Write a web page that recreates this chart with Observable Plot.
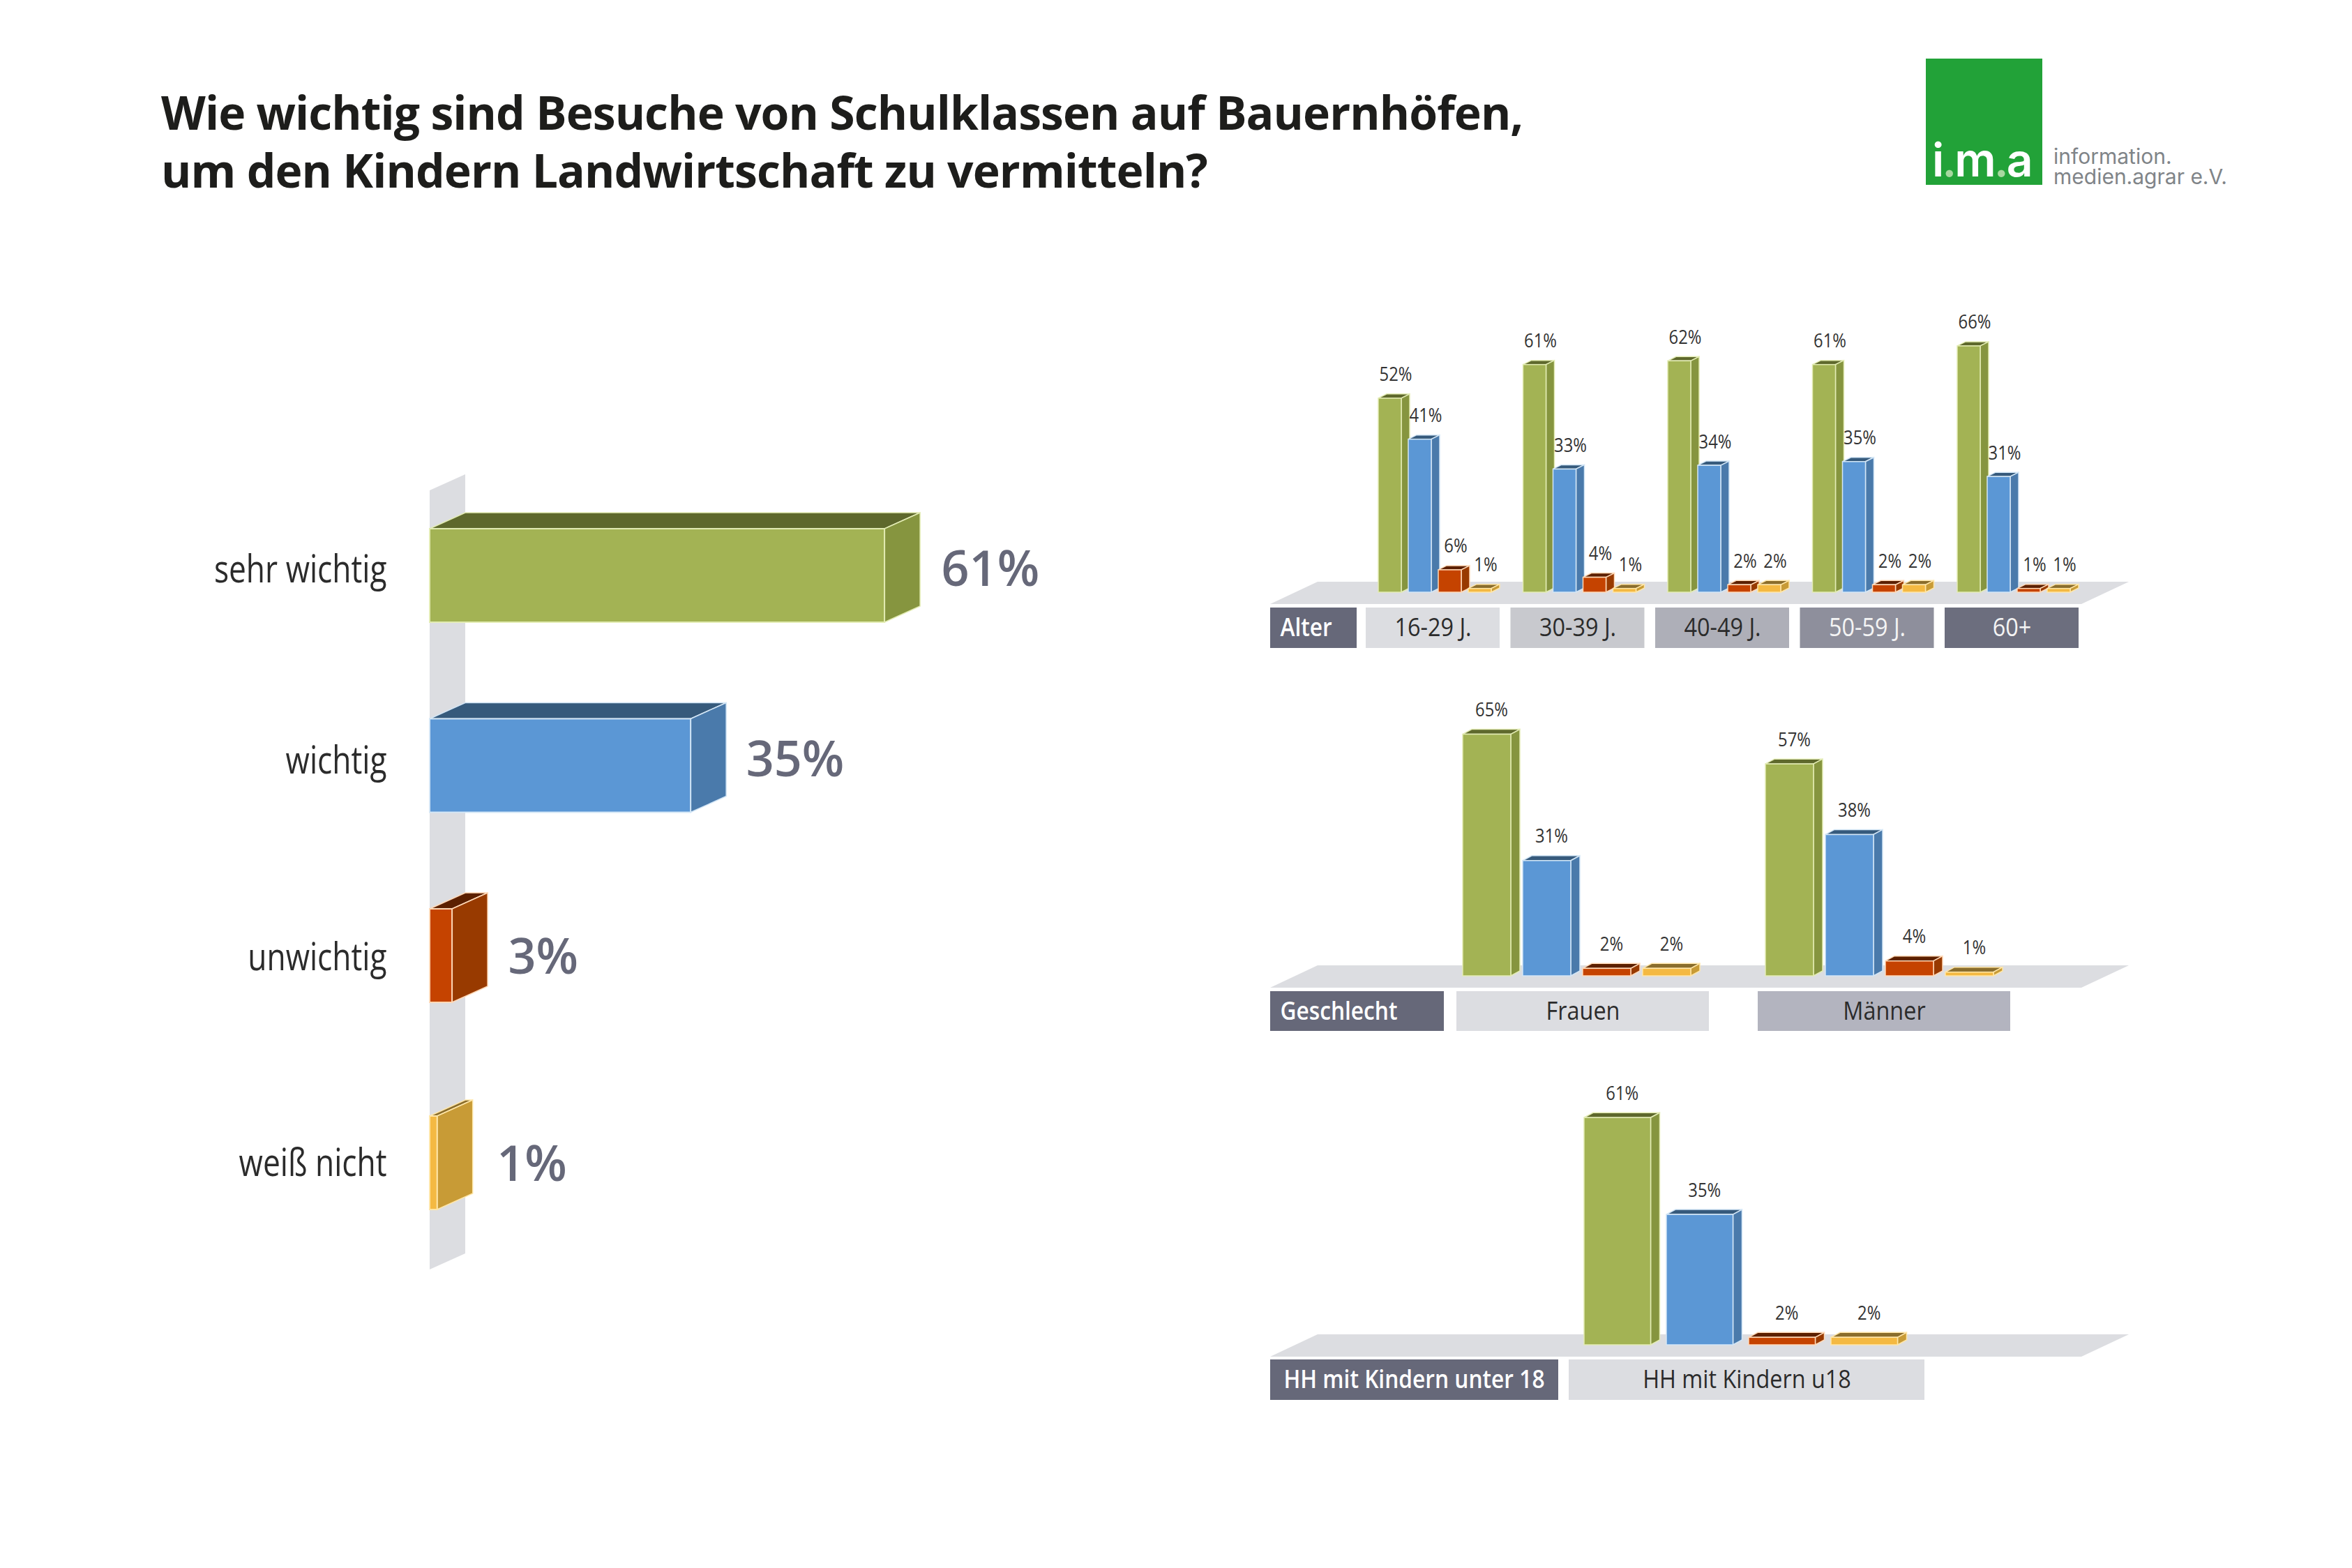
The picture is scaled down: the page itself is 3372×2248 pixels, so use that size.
<!DOCTYPE html>
<html lang="de">
<head>
<meta charset="utf-8">
<script src="https://cdn.jsdelivr.net/npm/d3@7"></script>
<script src="https://cdn.jsdelivr.net/npm/@observablehq/plot@0.6"></script>
<style>
  html, body { margin: 0; padding: 0; background: #fff; }
  #page { position: relative; width: 3372px; height: 2248px; overflow: hidden; background: #fff; }
  #title { position: absolute; left: 231px; top: 119px; font: 700 66px/83px "Open Sans", sans-serif; letter-spacing: -0.9px; color: #1d1d1b; white-space: pre; margin: 0; }
  #logo { position: absolute; left: 2761px; top: 84px; width: 167px; height: 181px; background: #22a238; }
  #logoMark { position: absolute; left: 9px; top: 105px; font: 600 66px/80px Inter, sans-serif; color: #fff; letter-spacing: -3px; white-space: pre; }
  #logoMark span { color: #a8d8a0; }
  #logoText { position: absolute; left: 2944px; top: 210px; font: 400 30px/29px Inter, sans-serif; color: #808488; white-space: pre; }
  #page svg { position: absolute; background: transparent; }
</style>
</head>
<body>
<div id="page">
  <h1 id="title"></h1>
  <div id="logo"><div id="logoMark">i<span>.</span>m<span>.</span>a</div></div>
  <div id="logoText"></div>
</div>
<script>
// ---------- text ----------
const titleLines = ["Wie wichtig sind Besuche von Schulklassen auf Bauernhöfen,", "um den Kindern Landwirtschaft zu vermitteln?"];
const logoLines = ["information.", "medien.agrar e.V."];

// ---------- data ----------
const responses = ["sehr wichtig", "wichtig", "unwichtig", "weiß nicht"];
const totalValues = [61, 35, 3, 1];

const ageHeader = "Alter";
const ageGroups = ["16-29 J.", "30-39 J.", "40-49 J.", "50-59 J.", "60+"];
const ageSehrWichtig = [52, 61, 62, 61, 66];
const ageWichtig = [41, 33, 34, 35, 31];
const ageUnwichtig = [6, 4, 2, 2, 1];
const ageWeissNicht = [1, 1, 2, 2, 1];

const genderHeader = "Geschlecht";
const genderGroups = ["Frauen", "Männer"];
const genderSehrWichtig = [65, 57];
const genderWichtig = [31, 38];
const genderUnwichtig = [2, 4];
const genderWeissNicht = [2, 1];

const kidsHeader = "HH mit Kindern unter 18";
const kidsGroups = ["HH mit Kindern u18"];
const kidsSehrWichtig = [61];
const kidsWichtig = [35];
const kidsUnwichtig = [2];
const kidsWeissNicht = [2];

// ---------- styles ----------
const frontColors = ["#a3b354", "#5b97d5", "#c54300", "#f4b942"];
const sideColors = ["#86953f", "#4a7aab", "#983a00", "#c89b36"];
const topColors = ["#5e682c", "#365a7c", "#5c2000", "#8a6d2c"];
const edgeColors = ["#e3ecb4", "#d3e6f6", "#ffd9b8", "#ffe6a8"];
const wallColor = "#dcdde1";
const headerColor = "#666879";
const FONT = "Open Sans";

const colorScale = {domain: responses, range: frontColors};
const page = document.getElementById("page");

// ---------- 3D helpers: all faces derive from the pixel positions Plot's scales give ----------
function pathOf(points, fill, stroke) {
  const p = document.createElementNS("http://www.w3.org/2000/svg", "path");
  p.setAttribute("d", "M" + points.map(q => q.join(",")).join("L") + "Z");
  p.setAttribute("fill", fill);
  if (stroke) { p.setAttribute("stroke", stroke); p.setAttribute("stroke-width", 1.5); }
  return p;
}
// depth prism: top + side polygons behind the front rect drawn by Plot.
function prism(rows, dx, dy, edgeWidth) {
  return (index, scales, values, dimensions, context, next) => {
    const g = next(index, scales, values, dimensions, context);
    const first = g.firstChild;
    for (const i of index) {
      const l = Math.min(values.x1[i], values.x2[i]), r = Math.max(values.x1[i], values.x2[i]);
      const t = Math.min(values.y1[i], values.y2[i]), b = Math.max(values.y1[i], values.y2[i]);
      const k = rows[i].r;
      g.insertBefore(pathOf([[l, t], [l + dx, t - dy], [r + dx, t - dy], [r, t]], topColors[k], edgeColors[k]), first);
      g.insertBefore(pathOf([[r, t], [r + dx, t - dy], [r + dx, b - dy], [r, b]], sideColors[k], edgeColors[k]), first);
    }
    g.querySelectorAll("rect").forEach((el, j) => {
      el.setAttribute("stroke", edgeColors[rows[index[j]].r]);
      el.setAttribute("stroke-width", edgeWidth);
    });
    return g;
  };
}
// a rect sheared sideways (floor) or upwards (wall)
function sheared(shiftX, shiftY) {
  return (index, scales, values) => {
    const g = document.createElementNS("http://www.w3.org/2000/svg", "g");
    for (const i of index) {
      const l = Math.min(values.x1[i], values.x2[i]), r = Math.max(values.x1[i], values.x2[i]);
      const t = Math.min(values.y1[i], values.y2[i]), b = Math.max(values.y1[i], values.y2[i]);
      g.appendChild(pathOf([[l + shiftX, t], [r + shiftX, t - shiftY], [r, b - shiftY], [l, b]], wallColor));
    }
    return g;
  };
}
function place(svg, left, top) {
  svg.style.left = left + "px";
  svg.style.top = top + "px";
  page.appendChild(svg);
}

// ---------- left chart ----------
(function leftChart() {
  const L = {top: 650, height: 1200, width: 1760, x0: 616, pxPerPct: 10.69, c0: 825, c3: 1667, lastSlot: 3.09,
             halfBar: 0.246, dx: 51, dy: 23, labelShift: [-8, -7, 3, 3], rowLabelShift: [-8, -6, 3, 1], labelGap: [30, 28, 29, 34]};
  const slotPx = (L.c3 - L.c0) / L.lastSlot;
  const rowSlots = [0, 1, 2, L.lastSlot];
  const rows = responses.map((name, r) => ({name, r, v: totalValues[r], slot: rowSlots[r]}));
  const wall = [{x1: 0, x2: L.dx / L.pxPerPct, y1: (703 - L.c0) / slotPx, y2: (1820 - L.c0) / slotPx}];
  const svg = Plot.plot({
    width: L.width, height: L.height, margin: 0,
    x: {domain: [0, 100], range: [L.x0, L.x0 + 100 * L.pxPerPct], axis: null},
    y: {domain: [0, L.lastSlot], range: [L.c0 - L.top, L.c3 - L.top], axis: null},
    color: colorScale,
    marks: [
      Plot.rect(wall, {x1: "x1", x2: "x2", y1: "y1", y2: "y2", fill: wallColor, render: sheared(0, 23)}),
      Plot.rect(rows, {x1: 0, x2: "v", y1: d => d.slot - L.halfBar, y2: d => d.slot + L.halfBar, fill: "name",
                       render: prism(rows, L.dx, L.dy, 2)}),
      Plot.text(rows, {x: 0, y: d => d.slot + L.rowLabelShift[d.r] / slotPx, text: "name", dx: -62, textAnchor: "end",
                       fontFamily: FONT, fontSize: 54, fill: "#2b2b2b", className: "k82"}),
      ...rows.map(d => Plot.text([d], {x: "v", y: e => e.slot + L.labelShift[e.r] / slotPx, text: e => e.v + "%",
                       dx: L.dx + L.labelGap[d.r], textAnchor: "start",
                       fontFamily: FONT, fontSize: 70, fontWeight: 600, fill: headerColor}))
    ]
  });
  place(svg, 0, L.top);
})();

// ---------- right panels ----------
function groupedPanel(groups, series, header, boxFills, boxInk, L) {
  const rows = [];
  groups.forEach((group, g) => series.forEach((vals, r) => rows.push({group, g, r, name: responses[r], v: vals[g]})));
  const bx = px => (px - L.x0) / L.barStep;
  const vy = py => (L.base - py) / L.pxPerPct;
  const barX = d => d.g * L.groupStep / L.barStep + d.r;
  const boxes = groups.map((group, g) => ({group, g, x1: bx(L.boxX + g * L.boxStep), x2: bx(L.boxX + g * L.boxStep + L.boxW)}));
  const svg = Plot.plot({
    width: 1300, height: L.height, margin: 0,
    x: {domain: [0, 1], range: [L.x0 - 1800, L.x0 - 1800 + L.barStep], axis: null},
    y: {domain: [0, 100], range: [L.base - L.top, L.base - L.top - 100 * L.pxPerPct], axis: null},
    color: colorScale,
    marks: [
      // floor
      Plot.rect([0], {x1: bx(1821), x2: bx(2984), y1: vy(L.floor[0]), y2: vy(L.floor[1]), fill: wallColor, render: sheared(68, 0)}),
      // bars
      Plot.rect(rows, {x1: barX, x2: d => barX(d) + L.barW / L.barStep, y1: 0, y2: "v", fill: "name",
                       render: prism(rows, L.dx, L.dy, 1.5)}),
      Plot.text(rows, {x: d => barX(d) + L.barW / L.barStep / 2, y: "v", text: d => d.v + "%", dx: L.dx / 2 + L.labelNudge, dy: -(L.dy + 28),
                       fontFamily: FONT, fontSize: 28, fill: "#333", className: "k85"}),
      // header box + group boxes
      Plot.rect([header], {x1: bx(1821), x2: bx(L.headerEnd), y1: vy(L.box[0]), y2: vy(L.box[1]), fill: headerColor}),
      Plot.text([header], {x: bx(L.headerText), y: vy((L.box[0] + L.box[1]) / 2), text: d => d, textAnchor: "start",
                           fontFamily: FONT, fontSize: 36, fontWeight: 600, fill: "#fff", className: "k88"}),
      Plot.rect(boxes, {x1: "x1", x2: "x2", y1: vy(L.box[0]), y2: vy(L.box[1]), fill: d => boxFills[d.g]}),
      Plot.text(boxes, {x: d => (d.x1 + d.x2) / 2, y: vy((L.box[0] + L.box[1]) / 2), text: "group",
                        fontFamily: FONT, fontSize: 36, fill: d => boxInk[d.g], className: "k90"})
    ]
  });
  place(svg, 1800, L.top);
}

groupedPanel(ageGroups, [ageSehrWichtig, ageWichtig, ageUnwichtig, ageWeissNicht], ageHeader,
  ["#dcdde1", "#c8c9ce", "#aeafb8", "#8e8f9c", "#6c6e7e"], ["#2b2b2b", "#2b2b2b", "#2b2b2b", "#f4f4f4", "#f4f4f4"],
  {top: 430, height: 520, x0: 1976, barStep: 43, barW: 33, groupStep: 207.5, base: 849, pxPerPct: 5.35, dx: 12, dy: 6, labelNudge: 2,
   floor: [834, 866], box: [871, 929], headerEnd: 1945, headerText: 1835, boxX: 1958, boxStep: 207.5, boxW: 192});

groupedPanel(genderGroups, [genderSehrWichtig, genderWichtig, genderUnwichtig, genderWeissNicht], genderHeader,
  ["#dcdde1", "#b3b4bf"], ["#2b2b2b", "#2b2b2b"],
  {top: 980, height: 520, x0: 2097, barStep: 86, barW: 69, groupStep: 434, base: 1399, pxPerPct: 5.33, dx: 13, dy: 7, labelNudge: 0,
   floor: [1384, 1416], box: [1421, 1478], headerEnd: 2070, headerText: 1835, boxX: 2088, boxStep: 432, boxW: 362});

groupedPanel(kidsGroups, [kidsSehrWichtig, kidsWichtig, kidsUnwichtig, kidsWeissNicht], kidsHeader,
  ["#dcdde1"], ["#2b2b2b"],
  {top: 1530, height: 500, x0: 2271, barStep: 118, barW: 95.5, groupStep: 0, base: 1928, pxPerPct: 5.34, dx: 13, dy: 7, labelNudge: 0,
   floor: [1913, 1945], box: [1949, 2007], headerEnd: 2234, headerText: 1840, boxX: 2249, boxStep: 0, boxW: 510});

// ---------- title + logo ----------
document.getElementById("title").textContent = titleLines.join("\n");
document.getElementById("logoText").textContent = logoLines.join("\n");

// ---------- condense the Frutiger-like labels: glyphs are narrowed by a fixed ratio ----------
for (const [cls, k] of [["k82", 0.82], ["k85", 0.85], ["k88", 0.88], ["k90", 0.9]]) {
  document.querySelectorAll(`.${cls} text`).forEach(t => {
    t.setAttribute("lengthAdjust", "spacingAndGlyphs");
    t.setAttribute("textLength", (t.getComputedTextLength() * k).toFixed(1));
  });
}
</script>
</body>
</html>
